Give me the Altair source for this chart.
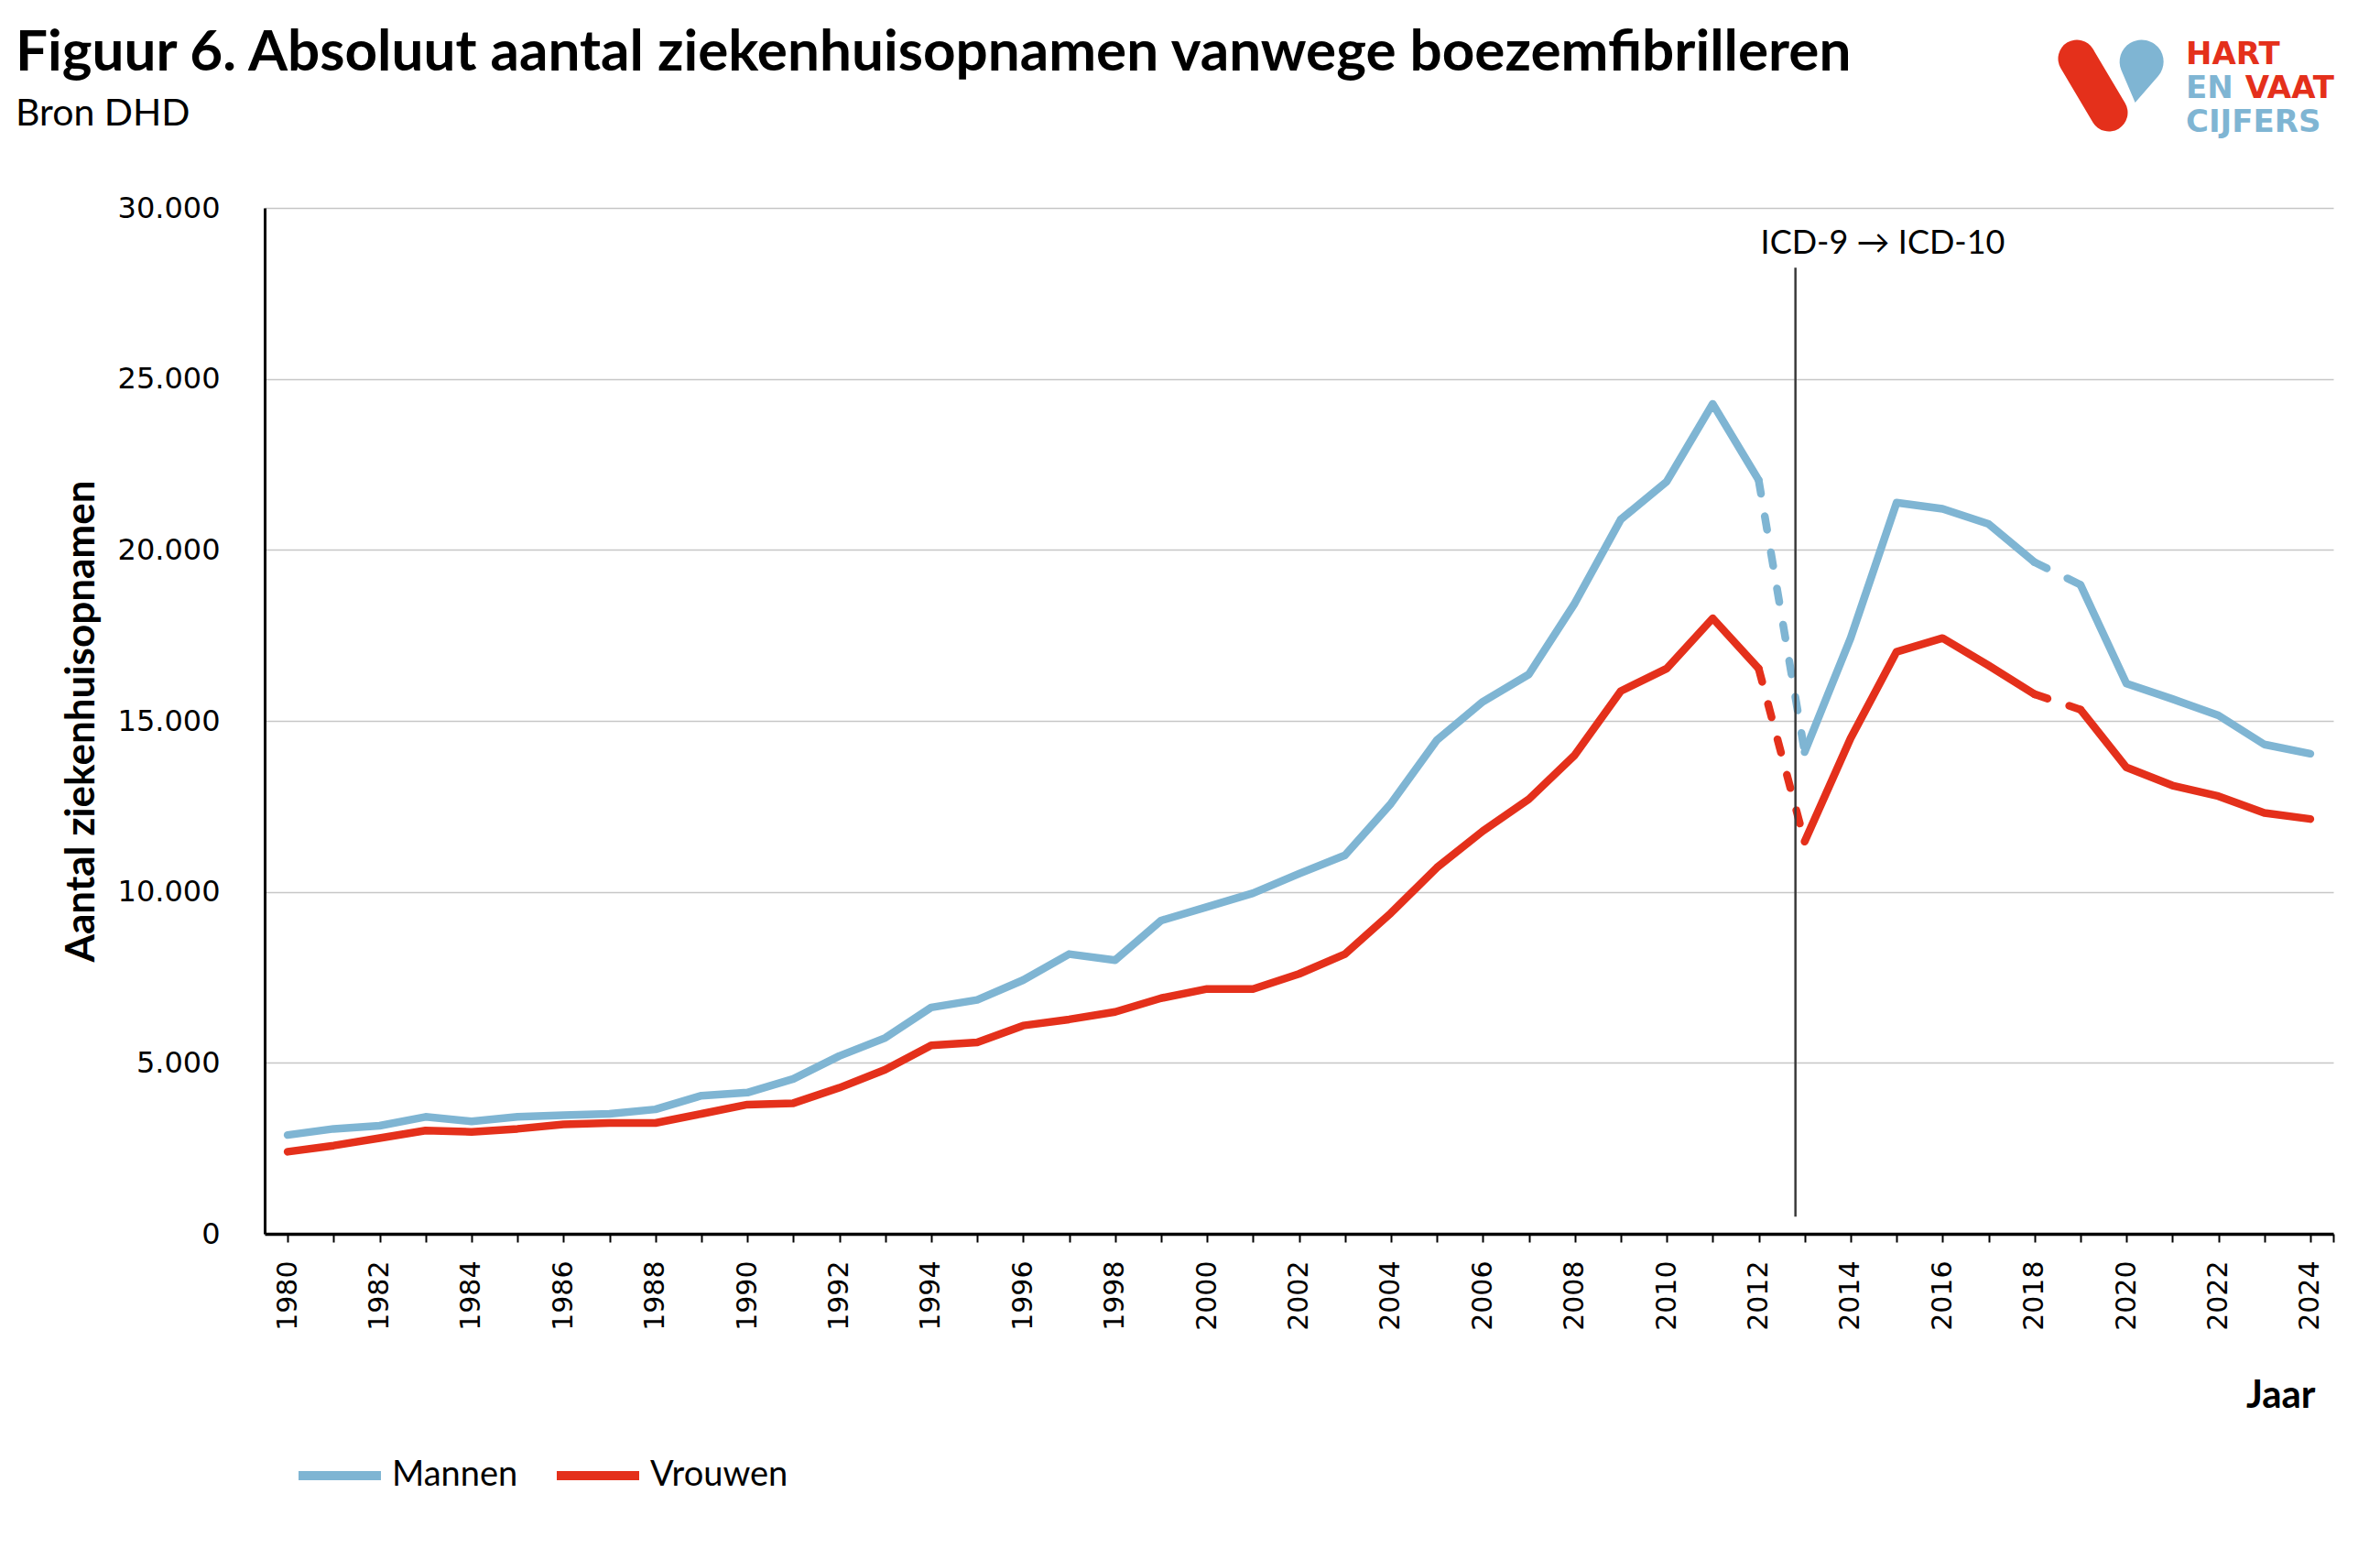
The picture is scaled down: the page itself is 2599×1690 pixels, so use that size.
import altair as alt
import pandas as pd

# ---------------- data ----------------
years = list(range(1980, 2025))
mannen = [2890, 3070, 3160, 3420, 3290, 3420, 3470, 3510, 3640, 4040,
          4130, 4530, 5200, 5730, 6620, 6840, 7420, 8180, 8000, 9160,
          9560, 9960, 10530, 11070, 12580, 14440, 15560, 16360, 18440, 20890,
          22000, 24270, 22040, 14090, 17420, 21380, 21200, 20760, 19640, 18980,
          16090, 15640, 15160, 14310, 14040]
vrouwen = [2400, 2580, 2800, 3020, 2980, 3070, 3200, 3240, 3240, 3510,
           3780, 3820, 4270, 4800, 5510, 5600, 6090, 6270, 6490, 6890,
           7160, 7160, 7600, 8180, 9380, 10710, 11780, 12710, 14000, 15870,
           16530, 18000, 16530, 11470, 14490, 17020, 17420, 16620, 15780, 15330,
           13640, 13110, 12800, 12310, 12130]
series_names = ["Mannen", "Vrouwen"]
solid_pieces = [(1980, 2012), (2013, 2018), (2019, 2024)]
dashed_pieces = [(2012, 2013), (2018, 2019)]
y_ticks = [0, 5000, 10000, 15000, 20000, 25000, 30000]

title_text = "Figuur 6. Absoluut aantal ziekenhuisopnamen vanwege boezemfibrilleren"
subtitle_text = "Bron DHD"

icd_year = 2012.8
icd_low = 500
icd_high = 28250
icd_label = "ICD-9 \u2192 ICD-10"
icd_label_year = 2014.7
icd_label_value = 28660

BLUE = "#7FB5D3"
RED = "#E4301B"

# ---------------- tables ----------------
rows = []
for name, vals in zip(series_names, [mannen, vrouwen]):
    for i, (a, b) in enumerate(solid_pieces):
        for y, v in zip(years, vals):
            if a <= y <= b:
                rows.append(dict(jaar=y, aantal=v, geslacht=name, deel=f"s{i}", stijl="solid"))
    for i, (a, b) in enumerate(dashed_pieces):
        for y, v in zip(years, vals):
            if a <= y <= b:
                rows.append(dict(jaar=y, aantal=v, geslacht=name, deel=f"d{i}", stijl="dash"))
df = pd.DataFrame(rows)
df_solid = df[df.stijl == "solid"]
df_dash = df[df.stijl == "dash"]

x_scale = alt.Scale(domain=[1979.5, 2024.5], nice=False, zero=False)
y_scale = alt.Scale(domain=[0, 30000], nice=False)

x_axis = alt.Axis(
    values=years + [2024.5], format="d",
    labelExpr="datum.value % 2 == 0 ? datum.label : ''",
    labelAngle=270, labelFont="DejaVu Sans", labelFontSize=30, labelColor="black",
    labelPadding=20, labelOverlap=False, labelFlush=False,
    ticks=True, tickSize=9, tickWidth=2, tickColor="black",
    domainColor="black", domainWidth=3.5, grid=False,
    title="Jaar", titleFont="Lato", titleFontSize=42, titleFontWeight="bold",
    titleColor="black", titleX=2239, titleY=189, titleAlign="right",
    titleBaseline="alphabetic", titleAngle=0,
)
y_axis = alt.Axis(
    values=y_ticks,
    labelExpr="replace(format(datum.value, ','), ',', '.')",
    labelFont="DejaVu Sans", labelFontSize=32, labelColor="black", labelPadding=49,
    ticks=False, tickSize=0, domainColor="black", domainWidth=3,
    grid=True, gridColor="#c6c6c6", gridWidth=1.5,
    title="Aantal ziekenhuisopnamen", titleFont="Lato", titleFontSize=44,
    titleFontWeight="bold", titleColor="black", titleX=-187, titleY=560,
    titleAngle=270, titleAlign="center", titleBaseline="alphabetic",
)

X = alt.X("jaar:Q", scale=x_scale, axis=x_axis)
Y = alt.Y("aantal:Q", scale=y_scale, axis=y_axis)

legend = alt.Legend(
    title=None, orient="none", legendX=32, legendY=1334, direction="horizontal",
    symbolType="stroke", symbolSize=8100, symbolStrokeWidth=10,
    labelFont="Lato", labelFontSize=38, labelColor="black",
    labelOffset=7, columnPadding=22, padding=0,
)

solid = alt.Chart(df_solid).mark_line(
    strokeWidth=8.5, strokeCap="round", strokeJoin="round"
).encode(
    x=X, y=Y,
    color=alt.Color("geslacht:N", scale=alt.Scale(domain=series_names, range=[BLUE, RED]), legend=legend),
    detail="deel:N",
)

dash_layers = []
for name, col in zip(series_names, [BLUE, RED]):
    dash_layers.append(
        alt.Chart(df_dash[df_dash.geslacht == name]).mark_line(
            strokeWidth=8.5, strokeCap="round", strokeDash=[15, 25], color=col
        ).encode(x=X, y=Y, detail="deel:N")
    )

rule_df = pd.DataFrame({"jaar": [icd_year], "aantal": [icd_low], "boven": [icd_high]})
rule = alt.Chart(rule_df).mark_rule(color="#3a3a3a", strokeWidth=2.5).encode(
    x=X, y=Y, y2=alt.Y2("boven:Q")
)

label_df = pd.DataFrame({"jaar": [icd_label_year], "aantal": [icd_label_value], "tekst": [icd_label]})
label = alt.Chart(label_df).mark_text(
    font="Lato", fontSize=36, color="black", align="center", baseline="alphabetic"
).encode(x=X, y=Y, text="tekst:N")

# ---------------- title, subtitle, logo ----------------
one = alt.Data(values=[{}])

title_mark = alt.Chart(one).mark_text(
    text=title_text, font="Lato", fontWeight="bold", fontSize=62, color="black",
    align="left", baseline="alphabetic"
).encode(x=alt.value(-272), y=alt.value(-150))
subtitle_mark = alt.Chart(one).mark_text(
    text=subtitle_text, font="Lato", fontSize=41, color="black",
    align="left", baseline="alphabetic"
).encode(x=alt.value(-272), y=alt.value(-90))

logo_pill = alt.Chart(one).mark_rule(color=RED, strokeWidth=41, strokeCap="round").encode(
    x=alt.value(1979), x2=alt.value(2014), y=alt.value(-163), y2=alt.value(-104)
)
drop_path = "M0,1.43 L-0.85,0.08 A1,1 0 1,1 0.85,0.08 Z"
logo_drop = alt.Chart(one).mark_point(
    shape=drop_path, size=2304, filled=True, color=BLUE, opacity=1, strokeWidth=0, angle=9
).encode(x=alt.value(2048), y=alt.value(-149))

def logo_text(txt, col, x, y, align="left"):
    return alt.Chart(one).mark_text(
        text=txt, color=col, font="DejaVu Sans", fontWeight="bold", fontSize=34,
        align=align, baseline="alphabetic"
    ).encode(x=alt.value(x), y=alt.value(y))

logo = [
    logo_pill, logo_drop,
    logo_text("HART", RED, 2098, -157),
    logo_text("EN", BLUE, 2098, -120),
    logo_text("VAAT", RED, 2260, -120, "right"),
    logo_text("CIJFERS", BLUE, 2098, -83),
]

chart = alt.layer(solid, *dash_layers, rule, label, title_mark, subtitle_mark, *logo).properties(
    width=2259, height=1120,
    autosize=alt.AutoSizeParams(type="none"),
    padding={"left": 281, "top": 219, "right": 30, "bottom": 320},
    background="white",
).configure_view(strokeWidth=0)

chart.save("out.html", embed_options={"renderer": "svg", "actions": False})
